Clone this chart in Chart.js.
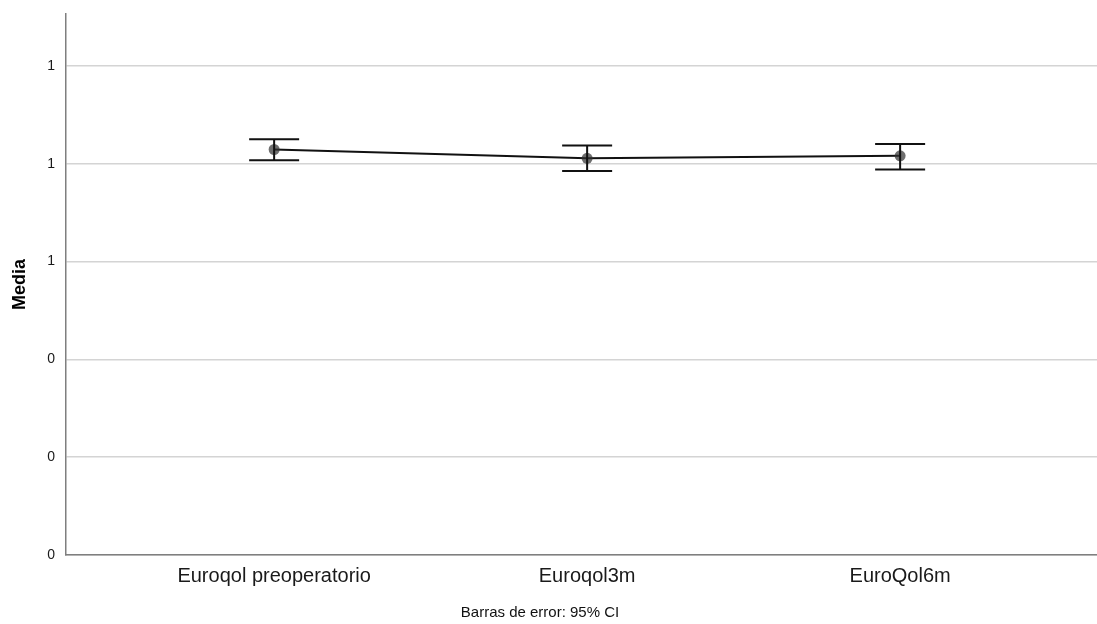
<!DOCTYPE html>
<html>
<head>
<meta charset="utf-8">
<script src="https://cdn.jsdelivr.net/npm/chart.js@4/dist/chart.umd.min.js"></script>
<style>
  html, body { margin: 0; padding: 0; background: #ffffff; }
  #wrap { width: 1097px; height: 624px; }
</style>
</head>
<body>
<div id="wrap"><canvas id="c" width="1097" height="624"></canvas></div>
<script>
// Mean EuroQol index per time point with 95% confidence intervals
const categories = ['Euroqol preoperatorio', 'Euroqol3m', 'EuroQol6m'];
const means = [0.829, 0.811, 0.816];
const ciLower = [0.807, 0.785, 0.788];
const ciUpper = [0.850, 0.837, 0.840];
const yTicks = [0, 0.2, 0.4, 0.6, 0.8, 1.0];
const yAxisTitle = 'Media';
const footnote = 'Barras de error: 95% CI';

const points = means.map((m, i) => ({ x: i, y: m }));
const FONT = '"Liberation Sans", Arial, sans-serif';

// Keep the plot area fixed: no extra label margins around the scales
function zeroPadding(scale) {
  scale.paddingTop = 0;
  scale.paddingBottom = 0;
  scale.paddingLeft = 0;
  scale.paddingRight = 0;
}

// Draws CI whiskers with caps, plus axis title and footnote
const errorBars = {
  id: 'errorBars',
  afterDatasetsDraw(chart) {
    const { ctx, scales: { x, y } } = chart;
    ctx.save();
    ctx.strokeStyle = '#111111';
    ctx.lineWidth = 2;
    const half = 25;
    categories.forEach((c, i) => {
      const px = x.getPixelForValue(i);
      const top = y.getPixelForValue(ciUpper[i]);
      const bot = y.getPixelForValue(ciLower[i]);
      ctx.beginPath();
      ctx.moveTo(px, top); ctx.lineTo(px, bot);
      ctx.moveTo(px - half, top); ctx.lineTo(px + half, top);
      ctx.moveTo(px - half, bot); ctx.lineTo(px + half, bot);
      ctx.stroke();
    });
    ctx.restore();
  },
  afterDraw(chart) {
    const { ctx, chartArea } = chart;
    ctx.save();
    ctx.fillStyle = '#000000';
    ctx.font = 'bold 18px ' + FONT;
    ctx.textAlign = 'center';
    ctx.textBaseline = 'middle';
    ctx.translate(20, (chartArea.top + chartArea.bottom) / 2);
    ctx.rotate(-Math.PI / 2);
    ctx.fillText(yAxisTitle, 0, 0);
    ctx.restore();
    ctx.save();
    ctx.fillStyle = '#111111';
    ctx.font = '15px ' + FONT;
    ctx.textAlign = 'center';
    ctx.textBaseline = 'middle';
    ctx.fillText(footnote, 540, 613);
    ctx.restore();
  }
};

new Chart(document.getElementById('c'), {
  type: 'line',
  data: {
    datasets: [{
      data: points,
      borderColor: '#111111',
      borderWidth: 2,
      pointRadius: 5.5,
      pointHoverRadius: 5.5,
      pointBackgroundColor: 'rgba(50,50,50,0.7)',
      pointBorderWidth: 0,
      tension: 0
    }]
  },
  options: {
    responsive: false,
    animation: false,
    events: [],
    layout: { autoPadding: false, padding: { top: 14, right: 0, left: 0, bottom: 0 } },
    plugins: { legend: { display: false }, tooltip: { enabled: false } },
    scales: {
      x: {
        type: 'linear',
        min: -0.665,
        max: 2.629,
        afterBuildTicks(scale) { scale.ticks = categories.map((c, i) => ({ value: i })); },
        afterFit(scale) { scale.height = 69; zeroPadding(scale); },
        grid: { display: false, drawTicks: false },
        border: { display: true, color: '#7f7f7f', width: 1.5 },
        ticks: {
          padding: 9,
          color: '#1a1a1a',
          font: { size: 20, family: FONT },
          maxRotation: 0,
          autoSkip: false,
          callback: (v) => categories[v]
        }
      },
      y: {
        min: 0,
        max: 1.106,
        afterBuildTicks(scale) { scale.ticks = yTicks.map(v => ({ value: v })); },
        afterFit(scale) { scale.width = 66; zeroPadding(scale); },
        grid: { color: '#d4d4d4', lineWidth: 1.5, drawTicks: false },
        border: { display: true, color: '#7f7f7f', width: 1.5 },
        ticks: {
          padding: 11,
          color: '#1a1a1a',
          font: { size: 14, family: FONT },
          callback: (v) => v.toFixed(0)
        }
      }
    }
  },
  plugins: [errorBars]
});
</script>
</body>
</html>
